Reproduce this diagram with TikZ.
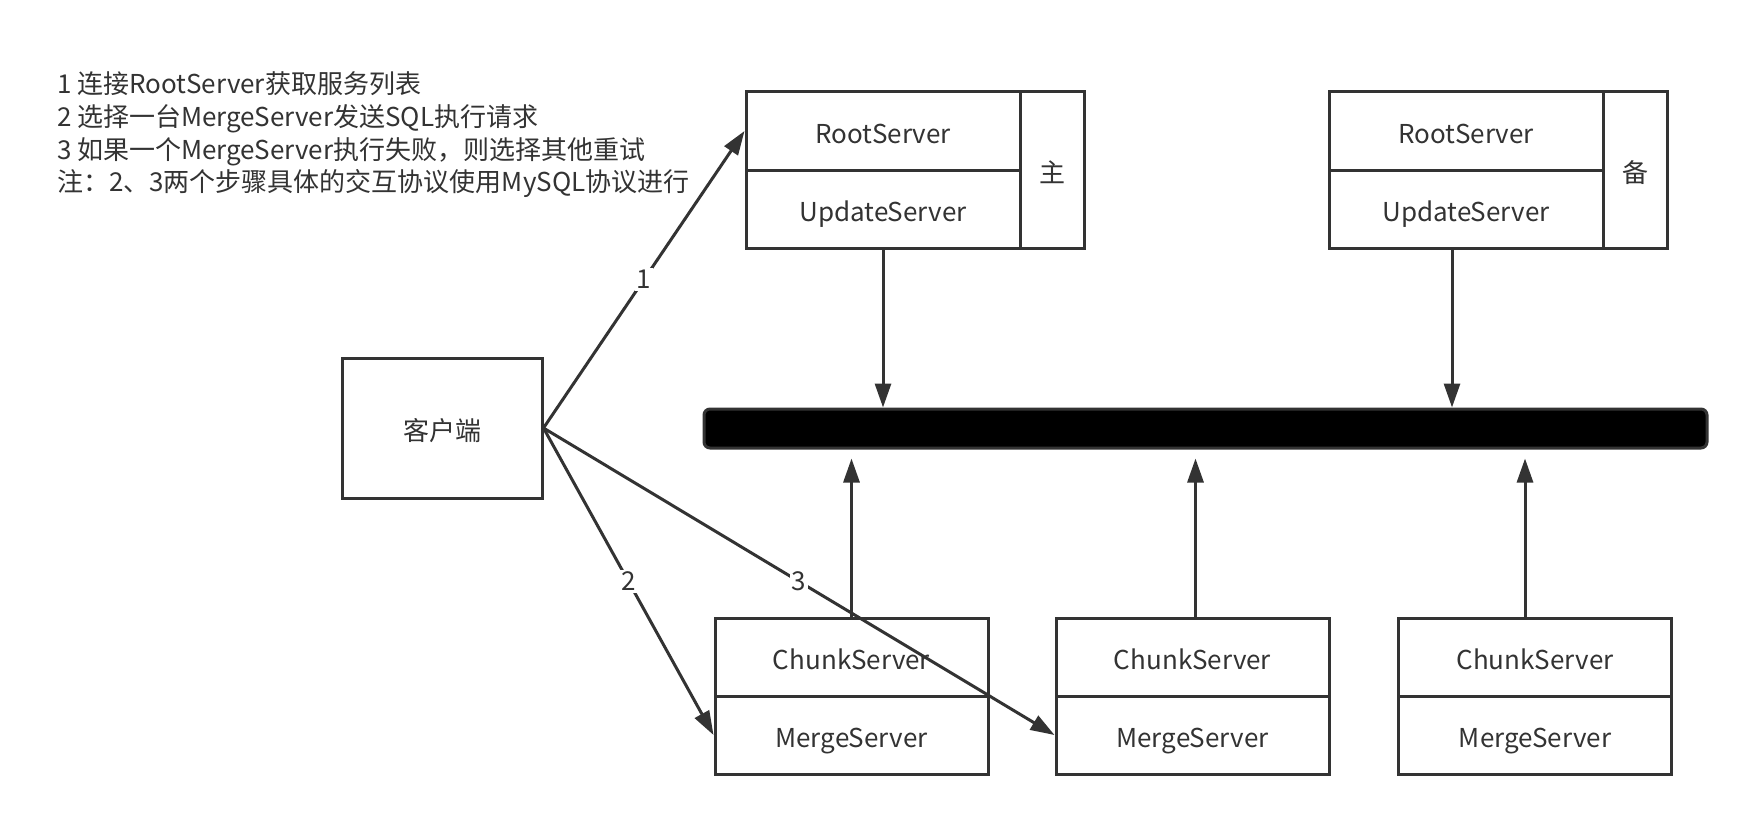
\documentclass[tikz,border=0pt]{standalone}
\usepackage{fontspec}
\setmainfont{Noto Sans CJK SC}
\usetikzlibrary{arrows.meta}
\definecolor{ink}{HTML}{333333}

\tikzset{
  cell/.style={draw=ink, line width=1.5pt, fill=white, text=ink, inner sep=0pt,
    text height=12.5pt, text depth=0pt,
    minimum width=137pt, minimum height=39pt, font=\fontsize{13}{15}\selectfont},
  tagcell/.style={cell, minimum width=32pt, minimum height=78pt},
  link/.style={draw=ink, line width=1.5pt, -{Triangle[length=12pt, width=8pt]}},
  numlabel/.style={fill=white, text=ink, inner sep=1pt, font=\fontsize{13}{15}\selectfont}
}

\begin{document}
\begin{tikzpicture}[x=0.5pt, y=-0.5pt]
  \useasboundingbox (0,0) rectangle (1756,824);

  % Notes
  \node[anchor=west, align=left, text=ink, font=\fontsize{13}{16.3}\selectfont] (notes) at (50,135)
    {1 连接RootServer获取服务列表\\
     2 选择一台MergeServer发送SQL执行请求\\
     3 如果一个MergeServer执行失败，则选择其他重试\\
     注：2、3两个步骤具体的交互协议使用MySQL协议进行};

  % Master and slave RootServer / UpdateServer
  \node[cell] (rootA) at (883,131) {RootServer};
  \node[cell] (updA) at (883,209) {UpdateServer};
  \node[tagcell] (tagA) at (1052,170) {主};

  \node[cell] (rootB) at (1466,131) {RootServer};
  \node[cell] (updB) at (1466,209) {UpdateServer};
  \node[tagcell] (tagB) at (1635,170) {备};

  % Client
  \node[cell, minimum width=100pt, minimum height=70pt] (client) at (442,428) {客户端};

  % Bus
  \node[draw=ink, line width=1.5pt, fill=black, rounded corners=3pt,
    minimum width=501.5pt, minimum height=19.5pt] (bus) at (1205.5,428.5) {};

  % Chunk / Merge servers
  \foreach \i/\x in {1/851.5, 2/1192.5, 3/1535} {
    \node[cell, minimum width=136.5pt] (chunk\i) at (\x,657) {ChunkServer};
    \node[cell, minimum width=136.5pt] (merge\i) at (\x,735) {MergeServer};
  }

  % Updates to the bus
  \draw[link] (updA.south) -- (updA.south |- bus.north);
  \draw[link] ([xshift=-7pt]updB.south) -- ([xshift=-7pt]updB.south |- bus.north);

  % Chunk servers to the bus
  \draw[link] (chunk1.north) -- ([yshift=-4.5pt]chunk1.north |- bus.south);
  \draw[link] ([xshift=1.5pt]chunk2.north) -- ([yshift=-4.5pt, xshift=1.5pt]chunk2.north |- bus.south);
  \draw[link] ([xshift=-5pt]chunk3.north) -- ([yshift=-4.5pt, xshift=-5pt]chunk3.north |- bus.south);

  % Client requests
  \draw[link] (client.east) -- node[numlabel] {1} (rootA.west);
  \draw[link] (client.east) -- node[numlabel] {2} (merge1.west);
  \draw[link] (client.east) -- node[numlabel] {3} (merge2.west);
\end{tikzpicture}
\end{document}
